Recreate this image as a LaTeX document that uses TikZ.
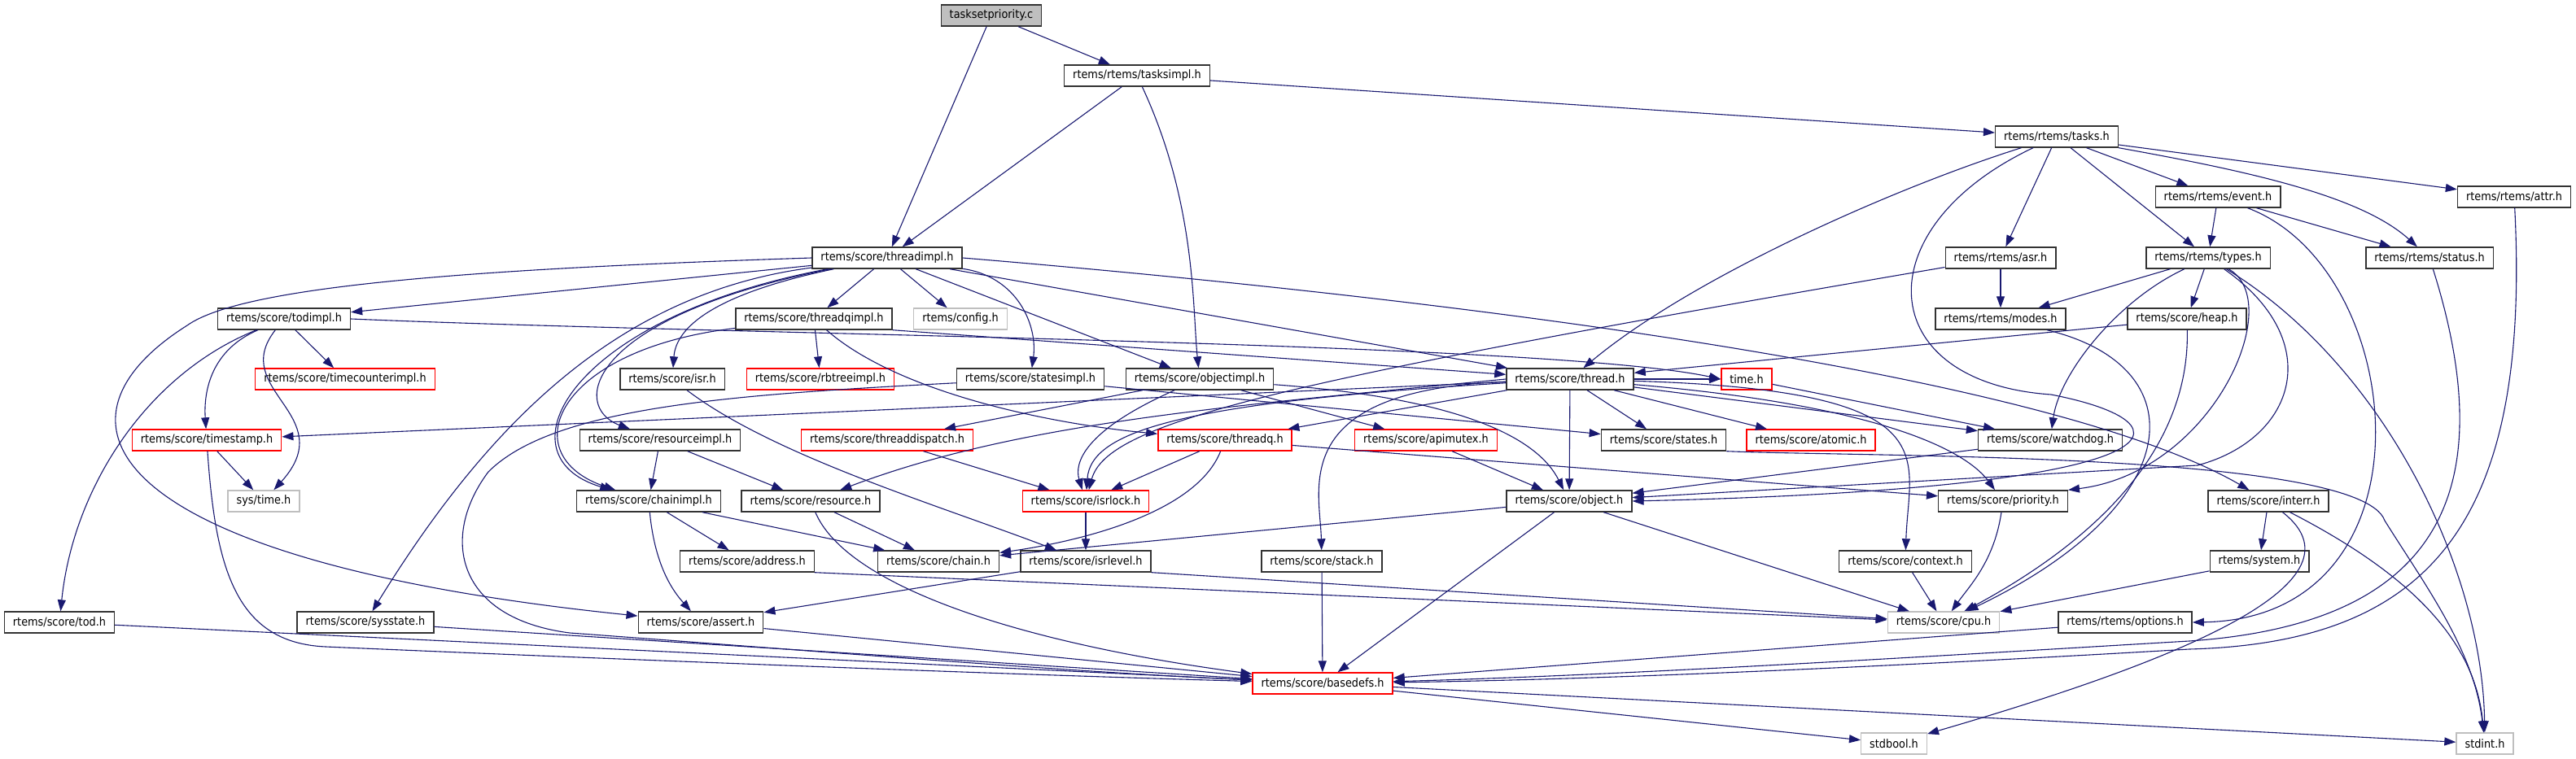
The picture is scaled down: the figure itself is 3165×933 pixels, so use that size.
\documentclass[tikz,border=0pt]{standalone}
\usepackage{fontspec}
\setmainfont{DejaVu Sans}[FakeStretch=0.9]
\usetikzlibrary{arrows.meta}
\definecolor{edgeblue}{HTML}{191970}
\definecolor{boxgray}{HTML}{BFBFBF}
\begin{document}
\begin{tikzpicture}[x=1pt,y=-1pt,>={Triangle[length=14pt,width=10pt]},
    hdr/.style={draw=black!80,line width=1.4pt,fill=white,inner xsep=10.5pt,inner ysep=0pt,minimum height=26pt,font=\fontsize{14.3}{17}\selectfont},
    redhdr/.style={hdr,draw=red},
    syshdr/.style={hdr,draw=boxgray},
    dep/.style={->,draw=edgeblue,line width=1.1pt}]
        \useasboundingbox(0,0)rectangle(3165,933);
        \node[hdr,fill=boxgray](tsp)at(1218,19){tasksetpriority.c};
        \foreach \n/\x/\y/\t in{tasksimpl/1397/93/{rtems/rtems/tasksimpl.h},tasks/2527/168/{rtems/rtems/tasks.h},
            event/2725/242/{rtems/rtems/event.h},attr/3089/242/{rtems/rtems/attr.h},
            threadimpl/1090/317/{rtems/score/threadimpl.h},asr/2458/317/{rtems/rtems/asr.h},types/2713/317/{rtems/rtems/types.h},status/2985/317/{rtems/rtems/status.h},
            todimpl/349/392/{rtems/score/todimpl.h},threadqimpl/1000/392/{rtems/score/threadqimpl.h},modes/2458/392/{rtems/rtems/modes.h},heap/2687/392/{rtems/score/heap.h},
            isr/826/466/{rtems/score/isr.h},statesimpl/1266/466/{rtems/score/statesimpl.h},objectimpl/1474/466/{rtems/score/objectimpl.h},thread/1929/466/{rtems/score/thread.h},
            resourceimpl/811/541/{rtems/score/resourceimpl.h},states/2044/541/{rtems/score/states.h},watchdog/2519/541/{rtems/score/watchdog.h},
            chainimpl/797/616/{rtems/score/chainimpl.h},resource/996/616/{rtems/score/resource.h},object/1928/616/{rtems/score/object.h},priority/2461/616/{rtems/score/priority.h},interr/2787/616/{rtems/score/interr.h},
            address/918/690/{rtems/score/address.h},chain/1153/690/{rtems/score/chain.h},isrlevel/1334/690/{rtems/score/isrlevel.h},stack/1624/690/{rtems/score/stack.h},context/2341/690/{rtems/score/context.h},system/2776/690/{rtems/system.h},
            tod/73/765/{rtems/score/tod.h},sysstate/449/765/{rtems/score/sysstate.h},assert/861/765/{rtems/score/assert.h},options/2611/765/{rtems/rtems/options.h}}
            \node[hdr](\n)at(\x,\y){\t};
        \foreach \n/\x/\y/\t in{timecounter/424/466/{rtems/score/timecounterimpl.h},rbtreeimpl/1008/466/{rtems/score/rbtreeimpl.h},timeh/2146/466/{time.h},
            timestamp/254/541/{rtems/score/timestamp.h},threaddispatch/1090/541/{rtems/score/threaddispatch.h},threadq/1505/541/{rtems/score/threadq.h},apimutex/1752/541/{rtems/score/apimutex.h},atomic/2225/541/{rtems/score/atomic.h},
            isrlock/1334/616/{rtems/score/isrlock.h},basedefs/1625/840/{rtems/score/basedefs.h}}
            \node[redhdr](\n)at(\x,\y){\t};
        \foreach \n/\x/\y/\t in{config/1180/392/{rtems/config.h},systime/324/616/{sys/time.h},cpu/2388/765/{rtems/score/cpu.h},stdbool/2327/914/{stdbool.h},stdint/3053/914/{stdint.h}}
            \node[syshdr](\n)at(\x,\y){\t};
        \foreach \a/\b in{tsp/threadimpl,tsp/tasksimpl,tasksimpl/threadimpl,tasksimpl/tasks,tasks/asr,tasks/types,tasks/event,tasks/attr,
            event/types,event/status,asr/modes,types/modes,types/heap,heap/thread,
            threadimpl/todimpl,threadimpl/threadqimpl,threadimpl/config,threadimpl/objectimpl,threadimpl/thread,
            todimpl/timecounter,threadqimpl/rbtreeimpl,threadqimpl.south east/thread,statesimpl/states,
            objectimpl/threaddispatch,objectimpl/apimutex,thread/timeh,thread/timestamp,thread/threadq,thread/states,thread/atomic,thread/watchdog,thread/object,
            timeh/watchdog,watchdog/object,resourceimpl/chainimpl,resourceimpl/resource,threaddispatch/isrlock,threadq/isrlock,threadq/priority,apimutex/object,
            chainimpl/address,chainimpl/chain,resource/chain,isrlock/isrlevel,object/chain,object/cpu,object/basedefs,interr/system,
            address.south east/cpu,isrlevel/assert,isrlevel.south east/cpu,stack/basedefs,context/cpu,system/cpu,
            tod/basedefs,sysstate/basedefs,assert/basedefs,options/basedefs,basedefs/stdbool,basedefs/stdint,timestamp/systime}
            \draw[dep](\a)--(\b);
        \draw[dep](threadimpl.west)..controls(600,330)and(300,350)..(230,400)..controls(40,520)and(130,690)..(assert);
        \draw[dep](statesimpl)..controls(900,485)and(680,500)..(600,580)..controls(540,660)and(560,760)..(700,778)..controls(1000,800)and(1300,825)..(basedefs);
        \draw[dep](tasks)..controls(2290,280)and(2300,470)..(2520,485)..controls(2700,520)and(2700,600)..(object.east);
        \draw[dep](todimpl)..controls(180,460)and(90,600)..(tod);
        \draw[dep](todimpl)..controls(260,430)and(250,480)..(timestamp);
        \draw[dep](todimpl)..controls(280,480)and(420,510)..(systime);
        \draw[dep](todimpl.east)..controls(900,412)and(1900,420)..(timeh.west);
        \draw[dep](threadimpl)..controls(760,360)and(600,520)..(sysstate);
        \draw[dep](threadimpl)..controls(700,390)and(610,560)..(chainimpl);
        \draw[dep](threadimpl)..controls(720,390)and(700,500)..(resourceimpl);
        \draw[dep](threadimpl)..controls(860,365)and(830,410)..(isr);
        \draw[dep](threadimpl)..controls(1250,340)and(1275,400)..(statesimpl);
        \draw[dep](threadimpl.east)..controls(1700,360)and(2500,450)..(interr);
        \draw[dep](threadqimpl)..controls(680,430)and(630,560)..(chainimpl);
        \draw[dep](threadqimpl)..controls(1100,480)and(1280,520)..(threadq);
        \draw[dep](tasksimpl)..controls(1470,250)and(1465,380)..(objectimpl);
        \draw[dep](tasks)..controls(2330,230)and(2080,340)..(thread);
        \draw[dep](tasks.south east)..controls(2760,210)and(2900,240)..(status);
        \draw[dep](asr)..controls(1560,470)and(1360,520)..(isrlock);
        \draw[dep](objectimpl)..controls(1800,490)and(1890,540)..(object);
        \draw[dep](objectimpl)..controls(1330,530)and(1320,570)..(isrlock);
        \draw[dep](thread)..controls(1580,480)and(1622,600)..(stack);
        \draw[dep](thread)..controls(1450,495)and(1340,530)..(isrlock);
        \draw[dep](thread.west)..controls(1500,500)and(1250,520)..(resource);
        \draw[dep](thread)..controls(2400,480)and(2345,560)..(context);
        \draw[dep](thread)..controls(2330,500)and(2420,560)..(priority);
        \draw[dep](threadq)..controls(1470,630)and(1330,665)..(chain);
        \draw[dep](isr)..controls(950,560)and(1150,620)..(isrlevel);
        \draw[dep](types)..controls(2810,370)and(2720,580)..(priority.north east);
        \draw[dep](types)..controls(2860,420)and(2820,540)..(2700,572)--(object);
        \draw[dep](types)..controls(2930,450)and(3050,700)..(stdint);
        \draw[dep](types)..controls(2600,370)and(2530,460)..(watchdog);
        \draw[dep](modes)..controls(2700,450)and(2690,620)..(cpu);
        \draw[dep](heap)..controls(2690,520)and(2620,640)..(cpu);
        \draw[dep](priority)..controls(2450,690)and(2420,720)..(cpu);
        \draw[dep](event)..controls(2960,330)and(3000,760)..(options.east);
        \draw[dep](status)..controls(3090,650)and(2950,770)..(2690,788)..controls(2400,805)and(2000,830)..(basedefs);
        \draw[dep](attr)..controls(3110,650)and(2980,790)..(2690,798)..controls(2400,815)and(2000,835)..(basedefs);
        \draw[dep](interr)..controls(2920,720)and(2650,820)..(stdbool);
        \draw[dep](interr)..controls(2950,700)and(3040,780)..(stdint);
        \draw[dep](states.south east)..controls(2300,562)and(2900,555)..(2930,640)..controls(2980,720)and(3040,800)..(stdint);
        \draw[dep](timestamp)..controls(265,700)and(290,790)..(400,795)..controls(700,808)and(1200,828)..(basedefs);
        \draw[dep](resource)..controls(1040,720)and(1250,790)..(basedefs);
        \draw[dep](chainimpl)..controls(805,700)and(830,730)..(assert);
    \end{tikzpicture}
\end{document}
